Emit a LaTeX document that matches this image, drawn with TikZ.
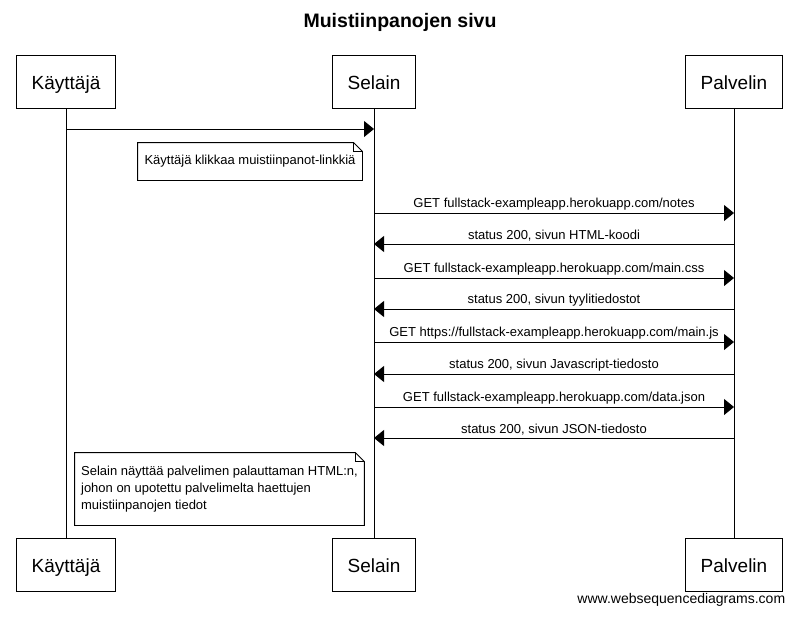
\documentclass[tikz,border=0pt]{standalone}
\usepackage{fontspec}
\setmainfont{Liberation Sans}
\usetikzlibrary{arrows.meta}
\begin{document}
\begin{tikzpicture}[x=1pt,y=-1pt,line width=0.9pt,
	actor/.style={draw,minimum height=53pt,inner xsep=15pt,text height=16pt,text depth=0pt,
		font=\fontsize{19}{23}\selectfont},
	msg/.style={-{Triangle[length=10pt,width=16pt]}},
	lbl/.style={font=\fontsize{13}{16}\selectfont,inner sep=0pt,above=2.5pt},
	note/.style={font=\fontsize{13}{17}\selectfont,align=left,inner xsep=6pt}]
\useasboundingbox (0,0) rectangle (797,616);
\node[font=\bfseries\fontsize{19.5}{23}\selectfont] (title) at (400,22) {Muistiinpanojen sivu};
% osallistujat
\node[actor] (kayttaja) at (66,81.5) {Käyttäjä};
\node[actor] (selain) at (374,81.5) {Selain};
\node[actor] (palvelin) at (734,81.5) {Palvelin};
\node[actor] (kayttaja2) at (66,564.5) {Käyttäjä};
\node[actor] (selain2) at (374,564.5) {Selain};
\node[actor] (palvelin2) at (734,564.5) {Palvelin};
\foreach \n in {kayttaja,selain,palvelin}
	\draw (\n.south) -- (\n2.north);
% viestit
\draw[msg] (kayttaja |- 0,129) -- (selain |- 0,129);
\foreach \y/\a/\b/\t in {
	213/selain/palvelin/{GET fullstack-exampleapp.herokuapp.com/notes},
	244/palvelin/selain/{status 200, sivun HTML-koodi},
	278/selain/palvelin/{GET fullstack-exampleapp.herokuapp.com/main.css},
	309/palvelin/selain/{status 200, sivun tyylitiedostot},
	342/selain/palvelin/{GET https://fullstack-exampleapp.herokuapp.com/main.js},
	374/palvelin/selain/{status 200, sivun Javascript-tiedosto},
	407/selain/palvelin/{GET fullstack-exampleapp.herokuapp.com/data.json},
	438/palvelin/selain/{status 200, sivun JSON-tiedosto}}
	\draw[msg] (\a |- 0,\y) -- (\b |- 0,\y) node[midway,lbl] {\t};
% muistiinpanot
\node[note,minimum width=224pt,minimum height=37pt] (note1) at (250,161.5)
	{Käyttäjä klikkaa muistiinpanot-linkkiä};
\node[note,minimum width=286pt,minimum height=72pt] (note2) at (219.5,489)
	{Selain näyttää palvelimen palauttaman HTML:n,\\johon on upotettu palvelimelta haettujen\\muistiinpanojen tiedot};
\foreach \n in {note1,note2}{
	\draw (\n.north west) -- ([xshift=-9pt]\n.north east) -- ([yshift=-9pt]\n.north east)
		-- (\n.south east) -- (\n.south west) -- cycle;
	\draw ([xshift=-9pt]\n.north east) |- ([yshift=-9pt]\n.north east);
}
\node[anchor=east,font=\fontsize{14}{16}\selectfont] (sivusto) at (789,600) {www.websequencediagrams.com};
\end{tikzpicture}
\end{document}
